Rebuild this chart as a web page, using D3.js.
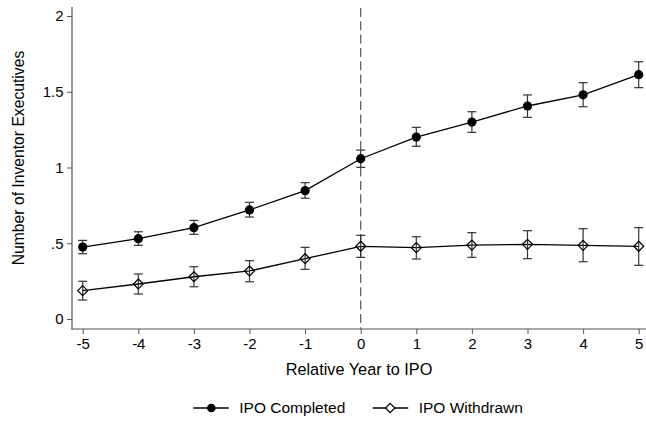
<!DOCTYPE html>
<html>
<head>
<meta charset="utf-8">
<script src="https://cdn.jsdelivr.net/npm/d3@7"></script>
<style>
  body { margin: 0; background: #fff; }
  text { font-family: "Liberation Sans", Arial, sans-serif; fill: #000; }
</style>
</head>
<body>
<div id="chart"></div>
<script>
// relative year to IPO
let years = [-5, -4, -3, -2, -1, 0, 1, 2, 3, 4, 5];

// IPO completed: mean and 95% CI
let completed = [0.475, 0.53, 0.603, 0.72, 0.847, 1.058, 1.201, 1.30, 1.406, 1.48, 1.613];
let completedLo = [0.431, 0.486, 0.559, 0.673, 0.797, 1.001, 1.14, 1.232, 1.331, 1.401, 1.527];
let completedHi = [0.519, 0.576, 0.651, 0.770, 0.90, 1.115, 1.265, 1.368, 1.479, 1.56, 1.698];

// IPO withdrawn
let withdrawn = [0.187, 0.231, 0.279, 0.317, 0.398, 0.48, 0.471, 0.488, 0.493, 0.486, 0.48];
let withdrawnLo = [0.125, 0.165, 0.213, 0.246, 0.328, 0.407, 0.396, 0.407, 0.398, 0.378, 0.354];
let withdrawnHi = [0.249, 0.297, 0.345, 0.385, 0.473, 0.552, 0.543, 0.57, 0.583, 0.596, 0.603];

let yTicks = [0, 0.5, 1, 1.5, 2];
let yTickLabels = ["0", ".5", "1", "1.5", "2"];
let seriesNames = ["IPO Completed", "IPO Withdrawn"];

let width = 646, height = 421;

let svg = d3.select("#chart")
    .append("svg")
    .attr("width", width)
    .attr("height", height);

let x = d3.scaleLinear().domain([-5, 5]).range([82.7, 638.7]);
let y = d3.scaleLinear().domain([0, 2]).range([319, 16]);

let axisColor = "#555";

// y axis
let yAxis = svg.append("g")
    .attr("transform", "translate(72,0)")
    .call(d3.axisLeft(y).tickValues(yTicks)
        .tickFormat((d, i) => yTickLabels[i]).tickSize(5).tickPadding(3.5));
yAxis.select(".domain").remove();
yAxis.append("line")
    .attr("x1", 0).attr("x2", 0)
    .attr("y1", 7).attr("y2", 329.5)
    .attr("stroke", axisColor).attr("stroke-width", 1.2);

// x axis
let xAxis = svg.append("g")
    .attr("transform", "translate(0,329)")
    .call(d3.axisBottom(x).tickValues(years)
        .tickFormat(d => String(d)).tickSize(5).tickPadding(4));
xAxis.select(".domain").remove();
xAxis.append("line")
    .attr("x1", 71.5).attr("x2", width)
    .attr("y1", 0).attr("y2", 0)
    .attr("stroke", axisColor).attr("stroke-width", 1.2);

svg.selectAll(".tick line").attr("stroke", axisColor);
svg.selectAll(".tick text")
    .style("font-size", "15px")
    .style("font-family", "Liberation Sans, Arial, sans-serif")
    .attr("fill", "#000");

// axis titles
svg.append("text")
    .attr("x", 359).attr("y", 374.5)
    .style("text-anchor", "middle")
    .style("font-size", "16.3px")
    .text("Relative Year to IPO");

svg.append("text")
    .attr("transform", "translate(24,158) rotate(-90)")
    .style("text-anchor", "middle")
    .style("font-size", "15.7px")
    .text("Number of Inventor Executives");

// reference line at year 0
svg.append("line")
    .attr("x1", x(0)).attr("x2", x(0))
    .attr("y1", 8).attr("y2", 329)
    .attr("stroke", "#555")
    .attr("stroke-width", 1.2)
    .attr("stroke-dasharray", "9,4.3");

let line = d3.line().x(d => x(d.yr)).y(d => y(d.v));

function drawSeries(vals, lo, hi, shape) {
  let data = years.map((yr, i) => ({yr: yr, v: vals[i], lo: lo[i], hi: hi[i]}));

  svg.append("path")
      .datum(data)
      .attr("d", line)
      .attr("fill", "none")
      .attr("stroke", "#000")
      .attr("stroke-width", 1.3);

  let eb = svg.append("g").attr("stroke", "#333").attr("stroke-width", 1.2);
  eb.selectAll(".bar").data(data).enter().append("line")
      .attr("x1", d => x(d.yr)).attr("x2", d => x(d.yr))
      .attr("y1", d => y(d.lo)).attr("y2", d => y(d.hi));
  eb.selectAll(".capHi").data(data).enter().append("line")
      .attr("x1", d => x(d.yr) - 4.5).attr("x2", d => x(d.yr) + 4.5)
      .attr("y1", d => y(d.hi)).attr("y2", d => y(d.hi));
  eb.selectAll(".capLo").data(data).enter().append("line")
      .attr("x1", d => x(d.yr) - 4.5).attr("x2", d => x(d.yr) + 4.5)
      .attr("y1", d => y(d.lo)).attr("y2", d => y(d.lo));

  if (shape == "circle") {
    svg.selectAll(null).data(data).enter().append("circle")
        .attr("cx", d => x(d.yr)).attr("cy", d => y(d.v))
        .attr("r", 4.6).attr("fill", "#000");
  } else {
    svg.selectAll(null).data(data).enter().append("path")
        .attr("d", d => diamond(x(d.yr), y(d.v), 5))
        .attr("fill", "none").attr("stroke", "#000").attr("stroke-width", 1.2);
  }
}

function diamond(cx, cy, r) {
  return `M${cx},${cy - r}L${cx + r},${cy}L${cx},${cy + r}L${cx - r},${cy}Z`;
}

drawSeries(completed, completedLo, completedHi, "circle");
drawSeries(withdrawn, withdrawnLo, withdrawnHi, "diamond");

// legend
let legend = svg.append("g");
let legendItems = [
  {name: seriesNames[0], x0: 193.3, shape: "circle"},
  {name: seriesNames[1], x0: 372.7, shape: "diamond"}
];
legendItems.forEach(it => {
  let ly = 408;
  legend.append("line")
      .attr("x1", it.x0).attr("x2", it.x0 + 35.5)
      .attr("y1", ly).attr("y2", ly)
      .attr("stroke", "#000").attr("stroke-width", 1.3);
  if (it.shape == "circle") {
    legend.append("circle").attr("cx", it.x0 + 18).attr("cy", ly).attr("r", 4.3).attr("fill", "#000");
  } else {
    legend.append("path").attr("d", diamond(it.x0 + 17.5, ly, 4.6))
        .attr("fill", "#fff").attr("stroke", "#000").attr("stroke-width", 1.2);
  }
  legend.append("text")
      .attr("x", it.x0 + 46).attr("y", ly + 5)
      .style("font-size", "15.5px")
      .text(it.name);
});
</script>
</body>
</html>
